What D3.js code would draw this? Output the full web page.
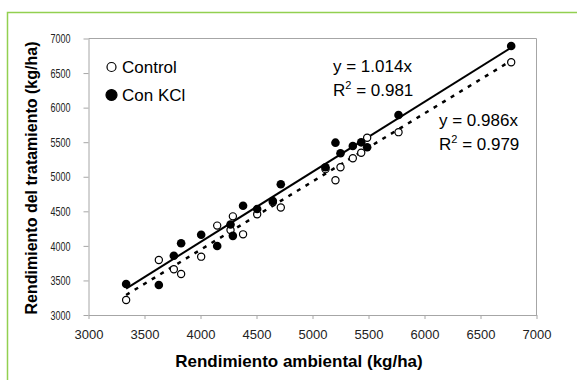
<!DOCTYPE html>
<html>
<head>
<meta charset="utf-8">
<script src="https://cdn.jsdelivr.net/npm/d3@7"></script>
<style>
  body { margin: 0; background: #fff; }
  svg { display: block; font-family: "Liberation Sans", Arial, sans-serif; }
</style>
</head>
<body>
<svg id="chart" width="577" height="380"></svg>
<script>
// rendimiento ambiental (x) shared by both treatments
const envYield = [3336, 3628, 3762, 3827, 4006, 4149, 4268, 4289, 4380, 4506,
                  4646, 4717, 5116, 5205, 5250, 5360, 5435, 5488, 5768, 6774];
const control  = [3217, 3796, 3661, 3593, 3844, 4293, 4230, 4427, 4167, 4457,
                  4630, 4555, 5110, 4950, 5137, 5267, 5348, 5565, 5645, 6656];
const conKCl   = [3448, 3434, 3858, 4037, 4162, 3998, 4310, 4145, 4580, 4533,
                  4649, 4891, 5137, 5493, 5339, 5445, 5498, 5426, 5893, 6891];
const ticks = [3000, 3500, 4000, 4500, 5000, 5500, 6000, 6500, 7000];
const fits = [
  { slope: 1.014, eq: 'y = 1.014x', r2: '0.981' },
  { slope: 0.986, eq: 'y = 0.986x', r2: '0.979' }
];

const svg = d3.select('#chart');

// green frame
svg.append('rect')
  .attr('x', 7.5).attr('y', 12.5)
  .attr('width', 700).attr('height', 500)
  .attr('fill', 'none')
  .attr('stroke', '#92d050')
  .attr('stroke-width', 1.5);

const x = d3.scaleLinear().domain([3000, 7000]).range([88.5, 536.5]);
const y = d3.scaleLinear().domain([3000, 7000]).range([315, 38.5]);

const grey = '#a6a6a6';

// plot frame (top / right)
svg.append('path')
  .attr('d', `M${x(3000)},${y(7000)}H${x(7000)}V${y(3000)}`)
  .attr('fill', 'none')
  .attr('stroke', grey);

const xAxis = svg.append('g')
  .attr('transform', `translate(0,${y(3000)})`)
  .call(d3.axisBottom(x).tickValues(ticks).tickFormat(d3.format('d'))
    .tickSize(4).tickSizeOuter(0).tickPadding(11));

const yAxis = svg.append('g')
  .attr('transform', `translate(${x(3000)},0)`)
  .call(d3.axisLeft(y).tickValues(ticks).tickFormat(d3.format('d'))
    .tickSize(5).tickSizeOuter(0).tickPadding(13));

[xAxis, yAxis].forEach(g => {
  g.attr('font-size', 13).attr('font-family', '"Liberation Sans", Arial, sans-serif');
  g.select('.domain').attr('stroke', grey);
  g.selectAll('.tick line').attr('stroke', grey);
  g.selectAll('.tick text').attr('fill', '#222');
});
yAxis.selectAll('.tick text')
  .attr('textLength', 20)
  .attr('lengthAdjust', 'spacingAndGlyphs');

// axis titles
svg.append('text')
  .attr('x', 299).attr('y', 367)
  .attr('text-anchor', 'middle')
  .style('font-size', '17px').style('font-weight', 'bold')
  .text('Rendimiento ambiental (kg/ha)');

svg.append('text')
  .attr('transform', 'translate(37,178) rotate(-90)')
  .attr('text-anchor', 'middle')
  .style('font-size', '16px').style('font-weight', 'bold')
  .text('Rendimiento del tratamiento (kg/ha)');

// regression lines through origin
const xr = d3.extent(envYield);
svg.append('line')
  .attr('x1', x(xr[0])).attr('y1', y(fits[0].slope * xr[0]))
  .attr('x2', x(xr[1])).attr('y2', y(fits[0].slope * xr[1]))
  .attr('stroke', '#000').attr('stroke-width', 2);

svg.append('line')
  .attr('x1', x(xr[0])).attr('y1', y(fits[1].slope * xr[0]))
  .attr('x2', x(xr[1])).attr('y2', y(fits[1].slope * xr[1]))
  .attr('stroke', '#000').attr('stroke-width', 2.5)
  .attr('stroke-dasharray', '4,6');

// points
svg.append('g').selectAll('circle')
  .data(envYield.map((v, i) => [v, control[i]]))
  .join('circle')
  .attr('cx', d => x(d[0])).attr('cy', d => y(d[1]))
  .attr('r', 3.6)
  .attr('fill', '#fff').attr('stroke', '#000').attr('stroke-width', 1.2);

svg.append('g').selectAll('circle')
  .data(envYield.map((v, i) => [v, conKCl[i]]))
  .join('circle')
  .attr('cx', d => x(d[0])).attr('cy', d => y(d[1]))
  .attr('r', 4.3)
  .attr('fill', '#000');

// legend
const legend = [
  { label: 'Control', fill: '#fff', r: 4.5, y: 67 },
  { label: 'Con KCl', fill: '#000', r: 5.5, y: 95 }
];
legend.forEach(d => {
  svg.append('circle')
    .attr('cx', 111.5).attr('cy', d.y).attr('r', d.r)
    .attr('fill', d.fill).attr('stroke', '#000').attr('stroke-width', 1.2);
  svg.append('text')
    .attr('x', 122).attr('y', d.y + 6)
    .style('font-size', '17px')
    .text(d.label);
});

// equations
const eqPos = [{ x: 333, y: 72 }, { x: 439, y: 126 }];
fits.forEach((f, i) => {
  const p = eqPos[i];
  svg.append('text')
    .attr('x', p.x).attr('y', p.y)
    .style('font-size', '17px')
    .text(f.eq);
  const t = svg.append('text')
    .attr('x', p.x).attr('y', p.y + 24)
    .style('font-size', '17px');
  t.append('tspan').text('R');
  t.append('tspan').attr('dy', -7).style('font-size', '11px').text('2');
  t.append('tspan').attr('dy', 7).text(' = ' + f.r2);
});
</script>
</body>
</html>
